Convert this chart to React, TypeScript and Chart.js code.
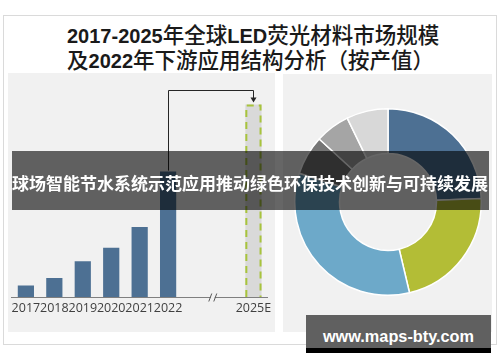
import React, { useEffect, useRef } from "react";
import { Chart, registerables } from "chart.js";

Chart.register(...registerables);

// ---- data ----
const titleLine1 = [
  { t: "2017-2025", latin: true },
  { t: "年全球", latin: false },
  { t: "LED", latin: true },
  { t: "荧光材料市场规模", latin: false },
];
const titleLine2 = [
  { t: "及", latin: false },
  { t: "2022", latin: true },
  { t: "年下游应用结构分析（按产值）", latin: false },
];
const bannerText = "球场智能节水系统示范应用推动绿色环保技术创新与可持续发展";
const watermarkText = "www.maps-bty.com";

const yearLabels = ["2017", "2018", "2019", "2020", "2021", "2022", "", "", "2025E"];
const marketSize: (number | null)[] = [6.0, 9.9, 18.5, 25.6, 36.4, 65.1, null, null, 100];
const yMax = 108;

const segmentLabels = ["通用照明", "背光显示", "汽车照明", "特种照明", "植物照明", "其他"];
const segmentShares = [24.4, 21.9, 33.7, 6.8, 6.0, 7.2];
const segmentColors = ["#4d7093", "#b3bd36", "#6da9c9", "#767676", "#a5a5a5", "#d8d8d8"];

const actualColor = "#4d7093";
const forecastColor = "#d9d9d9";
const forecastBorder = "#a8c43c";
const panelBg = "#f1f1f1";

const barExtras = {
  id: "barExtras",
  afterDatasetsDraw(chart: any) {
    const ctx = chart.ctx as CanvasRenderingContext2D;
    const meta = chart.getDatasetMeta(0);
    const lastIdx = yearLabels.length - 1;
    const last22 = 5;
    const e = meta.data[lastIdx].getProps(["x", "y", "base", "width"], true);
    const b = meta.data[last22].getProps(["x", "y", "base", "width"], true);
    ctx.save();
    // dashed outline of forecast bar
    ctx.strokeStyle = forecastBorder;
    ctx.lineWidth = 2;
    ctx.setLineDash([7, 5]);
    ctx.beginPath();
    const l = e.x - e.width / 2 + 1;
    const r = e.x + e.width / 2 - 1;
    ctx.moveTo(l, e.base);
    ctx.lineTo(l, e.y + 1);
    ctx.lineTo(r, e.y + 1);
    ctx.lineTo(r, e.base);
    ctx.stroke();
    // connector arrow
    ctx.setLineDash([]);
    ctx.strokeStyle = "#262626";
    ctx.fillStyle = "#262626";
    ctx.lineWidth = 1;
    const ay = Math.round(e.y - 14) + 0.5;
    const x1 = Math.round(b.x) + 0.5;
    const x2 = Math.round(e.x) + 0.5;
    ctx.beginPath();
    ctx.moveTo(x1, b.y - 1);
    ctx.lineTo(x1, ay);
    ctx.lineTo(x2, ay);
    ctx.lineTo(x2, e.y - 6);
    ctx.stroke();
    ctx.beginPath();
    ctx.moveTo(x2 - 3, e.y - 7);
    ctx.lineTo(x2 + 3, e.y - 7);
    ctx.lineTo(x2, e.y - 2);
    ctx.closePath();
    ctx.fill();
    // axis break marks
    const xs = chart.scales.x;
    const mid = (xs.getPixelForValue(6) + xs.getPixelForValue(7)) / 2 + 2;
    const by = chart.chartArea.bottom;
    ctx.fillStyle = panelBg;
    ctx.fillRect(mid - 2, by - 2, 4, 4);
    ctx.strokeStyle = "#595959";
    ctx.lineWidth = 1;
    ctx.beginPath();
    ctx.moveTo(mid - 4, by + 4.5);
    ctx.lineTo(mid - 1, by - 3.5);
    ctx.moveTo(mid + 1, by + 4.5);
    ctx.lineTo(mid + 4, by - 3.5);
    ctx.stroke();
    ctx.restore();
  },
};

function BarPanel() {
  const ref = useRef<HTMLCanvasElement>(null);
  useEffect(() => {
    if (!ref.current) return;
    const colors = marketSize.map((_, i) => (i === yearLabels.length - 1 ? forecastColor : actualColor));
    const chart = new Chart(ref.current, {
      type: "bar",
      data: {
        labels: yearLabels,
        datasets: [
          {
            data: marketSize,
            backgroundColor: colors,
            borderWidth: 0,
            barPercentage: 0.57,
            categoryPercentage: 1,
          },
        ],
      },
      options: {
        animation: false,
        responsive: false,
        maintainAspectRatio: false,
        events: [],
        layout: { padding: { top: 16, bottom: 12, left: 0, right: 0 } },
        plugins: { legend: { display: false }, tooltip: { enabled: false }, title: { display: false } },
        scales: {
          x: {
            grid: { display: false, drawTicks: false },
            border: { display: true, color: "#7f7f7f", width: 1 },
            ticks: {
              color: "#404040",
              font: { family: "Open Sans", size: 12.5 },
              padding: 4,
              autoSkip: false,
              maxRotation: 0,
              minRotation: 0,
            },
          },
          y: { display: false, min: 0, max: yMax },
        },
      },
      plugins: [barExtras],
    } as any);
    return () => chart.destroy();
  }, []);
  return (
    <canvas
      ref={ref}
      width={267}
      height={259}
      style={{ position: "absolute", left: 8, top: 73, width: 267, height: 259, display: "block" }}
    />
  );
}

function DonutPanel() {
  const ref = useRef<HTMLCanvasElement>(null);
  useEffect(() => {
    if (!ref.current) return;
    const chart = new Chart(ref.current, {
      type: "doughnut",
      data: {
        labels: segmentLabels,
        datasets: [
          {
            data: segmentShares,
            backgroundColor: segmentColors,
            borderColor: "#ffffff",
            borderWidth: 1.5,
            hoverOffset: 0,
          },
        ],
      },
      options: {
        animation: false,
        responsive: false,
        maintainAspectRatio: false,
        events: [],
        cutout: "52%",
        layout: { padding: 0 },
        plugins: { legend: { display: false }, tooltip: { enabled: false } },
      },
    } as any);
    return () => chart.destroy();
  }, []);
  return (
    <canvas
      ref={ref}
      width={188}
      height={188}
      style={{ position: "absolute", left: 294, top: 108, width: 188, height: 188, display: "block" }}
    />
  );
}

function TitleLine({ parts, top }: { parts: { t: string; latin: boolean }[]; top: number }) {
  return (
    <div
      style={{
        position: "absolute",
        left: 67,
        top,
        height: 26,
        lineHeight: "26px",
        whiteSpace: "nowrap",
        color: "#1a1a1a",
      }}
    >
      {parts.map((p, i) => (
        <span
          key={i}
          style={
            p.latin
              ? { fontFamily: "'Liberation Sans', Arial, sans-serif", fontWeight: 700, fontSize: 20 }
              : { fontFamily: "'Noto Sans CJK SC', sans-serif", fontWeight: 500, fontSize: 21.5 }
          }
        >
          {p.t}
        </span>
      ))}
    </div>
  );
}

export default function App() {
  return (
    <div
      style={{
        position: "fixed",
        left: 0,
        top: 0,
        width: 500,
        height: 362,
        background: "#ffffff",
        overflow: "hidden",
      }}
    >
      <div
        style={{
          position: "absolute",
          left: 3,
          top: 15,
          width: 494,
          height: 330,
          border: "1px solid #dadada",
          boxSizing: "border-box",
        }}
      />
      <TitleLine parts={titleLine1} top={21} />
      <TitleLine parts={titleLine2} top={46} />
      <div style={{ position: "absolute", left: 8, top: 73, width: 267, height: 259, background: panelBg }} />
      <div style={{ position: "absolute", left: 283, top: 74, width: 209, height: 258, background: panelBg }} />
      <BarPanel />
      <DonutPanel />
      <div
        style={{
          position: "absolute",
          left: 12,
          top: 151,
          width: 477,
          height: 59,
          background: "rgba(0,0,0,0.6)",
        }}
      />
      <div
        style={{
          position: "absolute",
          left: 0,
          top: 170,
          width: 500,
          height: 26,
          lineHeight: "26px",
          textAlign: "center",
          whiteSpace: "nowrap",
          color: "#ffffff",
          fontFamily: "'Noto Sans CJK SC', sans-serif",
          fontWeight: 700,
          fontSize: 17,
        }}
      >
        {bannerText}
      </div>
      <div style={{ position: "absolute", left: 306, top: 315, width: 185, height: 33, background: "#606060" }} />
      <div style={{ position: "absolute", left: 306, top: 348, width: 185, height: 5, background: "#000000" }} />
      <div
        style={{
          position: "absolute",
          left: 306,
          top: 324,
          width: 185,
          height: 24,
          lineHeight: "24px",
          textAlign: "center",
          whiteSpace: "nowrap",
          color: "#ffffff",
          fontFamily: "'Liberation Sans', Arial, sans-serif",
          fontWeight: 700,
          fontSize: 16.3,
        }}
      >
        {watermarkText}
      </div>
    </div>
  );
}
